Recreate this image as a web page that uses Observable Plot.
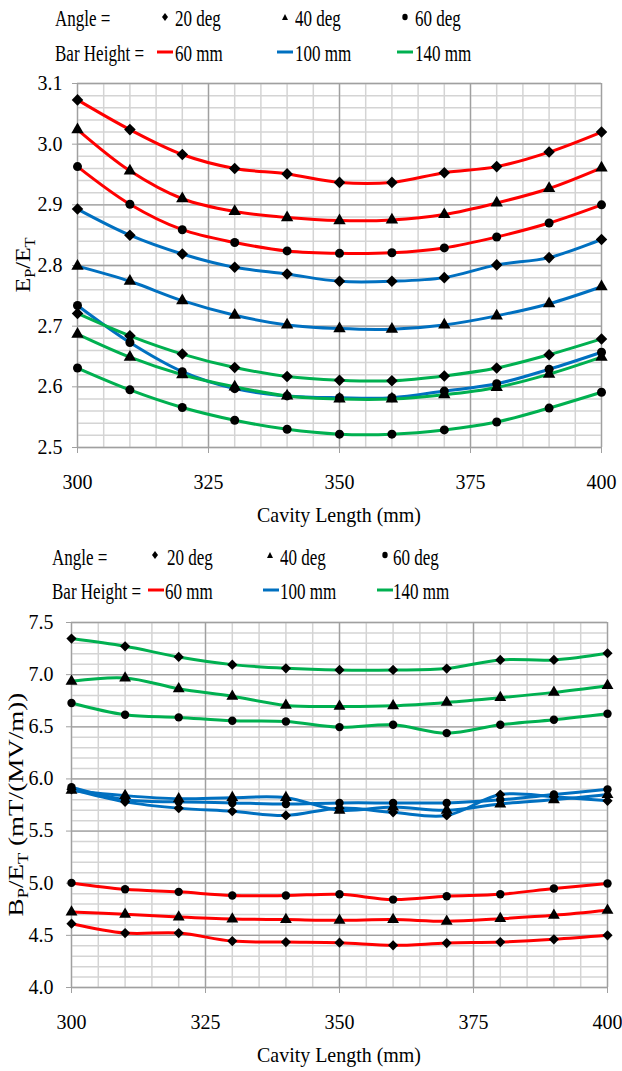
<!DOCTYPE html>
<html><head><meta charset="utf-8">
<script src="https://cdn.jsdelivr.net/npm/d3@7"></script>
<script src="https://cdn.jsdelivr.net/npm/@observablehq/plot@0.6"></script>
<style>
body{margin:0;background:#fff;font-family:'Liberation Serif','DejaVu Serif',serif;}
#root{position:relative;width:622px;height:1071px;overflow:hidden;background:#fff;}
.leg{position:absolute;font-family:'Liberation Serif','DejaVu Serif',serif;font-size:23px;color:#000;white-space:nowrap;line-height:1;transform:scaleX(0.74);transform-origin:left center;}
.chart{position:absolute;left:0;}
.mk{position:absolute;overflow:visible;}
svg text{font-family:'Liberation Serif','DejaVu Serif',serif;}
</style></head><body><div id="root"></div>
<script>
// ---------------- data ----------------
const cavityLength = [300,310,320,330,340,350,360,370,380,390,400];
const xTicks = [300,325,350,375,400];
const xMinor = [300,305,310,315,320,325,330,335,340,345,350,355,360,365,370,375,380,385,390,395,400];

// Top chart: Ep/Et
const epRed20   = [3.073,3.024,2.983,2.960,2.951,2.937,2.937,2.953,2.963,2.987,3.020];
const epRed40   = [3.024,2.956,2.910,2.889,2.879,2.874,2.875,2.884,2.903,2.927,2.961];
const epRed60   = [2.963,2.901,2.859,2.838,2.824,2.820,2.821,2.829,2.847,2.870,2.900];
const epBlue20  = [2.893,2.850,2.819,2.797,2.786,2.774,2.774,2.780,2.801,2.813,2.843];
const epBlue40  = [2.799,2.774,2.742,2.718,2.702,2.696,2.695,2.702,2.717,2.737,2.765];
const epBlue60  = [2.734,2.673,2.625,2.597,2.585,2.582,2.582,2.593,2.605,2.629,2.657];
const epGreen20 = [2.721,2.684,2.654,2.632,2.617,2.611,2.610,2.618,2.631,2.653,2.679];
const epGreen40 = [2.687,2.649,2.620,2.600,2.585,2.580,2.580,2.587,2.599,2.621,2.649];
const epGreen60 = [2.631,2.595,2.566,2.545,2.530,2.522,2.522,2.529,2.542,2.565,2.591];
const epTicks = [2.5,2.6,2.7,2.8,2.9,3.0,3.1];
const epMinor = [2.50,2.52,2.54,2.56,2.58,2.60,2.62,2.64,2.66,2.68,2.70,2.72,2.74,2.76,2.78,2.80,2.82,2.84,2.86,2.88,2.90,2.92,2.94,2.96,2.98,3.00,3.02,3.04,3.06,3.08,3.10];

// Bottom chart: Bp/Et
const bpRed20   = [4.612,4.522,4.522,4.445,4.436,4.430,4.404,4.426,4.436,4.462,4.500];
const bpRed40   = [4.724,4.702,4.676,4.657,4.651,4.644,4.651,4.635,4.660,4.692,4.740];
const bpRed60   = [5.003,4.942,4.917,4.882,4.882,4.894,4.843,4.875,4.894,4.949,4.997];
const bpBlue20  = [5.90,5.78,5.72,5.69,5.65,5.72,5.68,5.65,5.85,5.83,5.79];
const bpBlue40  = [5.89,5.84,5.81,5.82,5.82,5.70,5.73,5.70,5.76,5.80,5.85];
const bpBlue60  = [5.92,5.80,5.78,5.77,5.76,5.77,5.77,5.77,5.80,5.85,5.90];
const bpGreen20 = [7.346,7.272,7.170,7.096,7.061,7.045,7.045,7.058,7.141,7.141,7.205];
const bpGreen40 = [6.936,6.968,6.865,6.792,6.705,6.695,6.702,6.734,6.779,6.830,6.894];
const bpGreen60 = [6.728,6.615,6.590,6.558,6.551,6.497,6.519,6.439,6.519,6.567,6.625];
const bpTicks = [4.0,4.5,5.0,5.5,6.0,6.5,7.0,7.5];
const bpMinor = [4.0,4.1,4.2,4.3,4.4,4.5,4.6,4.7,4.8,4.9,5.0,5.1,5.2,5.3,5.4,5.5,5.6,5.7,5.8,5.9,6.0,6.1,6.2,6.3,6.4,6.5,6.6,6.7,6.8,6.9,7.0,7.1,7.2,7.3,7.4,7.5];

const heights = ["60 mm","100 mm","140 mm"];
const heightColors = ["#ff0000","#0070c0","#00b050"];
const angles = ["20 deg","40 deg","60 deg"];

const topSeries = [
  {h:"60 mm", a:"20 deg", v:epRed20},{h:"60 mm", a:"40 deg", v:epRed40},{h:"60 mm", a:"60 deg", v:epRed60},
  {h:"100 mm",a:"20 deg", v:epBlue20},{h:"100 mm",a:"40 deg", v:epBlue40},{h:"100 mm",a:"60 deg", v:epBlue60},
  {h:"140 mm",a:"20 deg", v:epGreen20},{h:"140 mm",a:"40 deg", v:epGreen40},{h:"140 mm",a:"60 deg", v:epGreen60}
];
const botSeries = [
  {h:"60 mm", a:"20 deg", v:bpRed20},{h:"60 mm", a:"40 deg", v:bpRed40},{h:"60 mm", a:"60 deg", v:bpRed60},
  {h:"100 mm",a:"20 deg", v:bpBlue20},{h:"100 mm",a:"40 deg", v:bpBlue40},{h:"100 mm",a:"60 deg", v:bpBlue60},
  {h:"140 mm",a:"20 deg", v:bpGreen20},{h:"140 mm",a:"40 deg", v:bpGreen40},{h:"140 mm",a:"60 deg", v:bpGreen60}
];

const FONT = "'Liberation Serif','DejaVu Serif',serif";
const root = document.getElementById("root");

function toRows(series){
  return series.flatMap(s => cavityLength.map((x,i)=>({x, y:s.v[i], h:s.h, a:s.a, key:s.h+"|"+s.a})));
}

function addLabel(svg, parts, x, y, rotate, fontSize, targetLen){
  const g = svg.append("g").attr("transform", `translate(${x},${y}) rotate(${rotate})`);
  const t = g.append("text").attr("text-anchor","middle")
    .style("font-family", FONT)
    .attr("font-size", fontSize).attr("fill","#000");
  let shift = 0;
  parts.forEach(p => {
    const ts = t.append("tspan").text(p.t);
    if (p.sub) { ts.attr("font-size", fontSize*0.68).attr("dy", 5 - shift); shift = 5; }
    else { if (shift) ts.attr("dy", -shift); shift = 0; }
  });
  if (targetLen) {
    const len = t.node().getComputedTextLength();
    if (len > 0) t.attr("transform", `scale(${targetLen/len},1)`);
  }
}

function makeChart(o){
  const rows = toRows(o.series);
  const dotOpts = (a, sym, r) => Plot.dot(rows.filter(d => d.a === a), {x:"x", y:"y", symbol:()=>sym, r, fill:"#000", stroke:"none"});
  const plot = Plot.plot({
    width:622, height:o.height,
    marginLeft:o.mL, marginRight:o.mR, marginTop:o.mT, marginBottom:o.mB,
    style:{fontFamily:FONT, fontSize:"20px", color:"#000", background:"transparent"},
    x:{domain:[300,400], label:null},
    y:{domain:o.yDomain, label:null},
    color:{domain:heights, range:heightColors},
    symbol:{type:"identity"},
    marks:[
      Plot.ruleX(xMinor, {stroke:"#d4d4d4", strokeWidth:1.5}),
      Plot.ruleY(o.yMinor, {stroke:"#d4d4d4", strokeWidth:1.5}),
      Plot.ruleX(xTicks, {stroke:"#a0a0a0", strokeWidth:1.3}),
      Plot.ruleY(o.yTicks, {stroke:"#a0a0a0", strokeWidth:1.3}),
      Plot.axisX(xTicks, {tickSize:6, tickPadding:o.xPad, stroke:"#a0a0a0", fill:"#000", fontSize:20, label:null, tickFormat:d=>String(d)}),
      Plot.axisY(o.yTicks, {tickSize:5, tickPadding:o.yPad, stroke:"#a0a0a0", fill:"#000", fontSize:20, label:null, tickFormat:d=>d.toFixed(1)}),
      Plot.line(rows, {x:"x", y:"y", z:"key", stroke:"h", strokeWidth:3, curve:"catmull-rom"}),
      dotOpts("20 deg","diamond2", o.rD),
      dotOpts("40 deg","triangle", o.rT),
      dotOpts("60 deg","circle", o.rC)
    ]
  });
  const wrap = document.createElement("div");
  wrap.className = "chart";
  wrap.style.top = o.top + "px";
  wrap.appendChild(plot);
  root.appendChild(wrap);
  const svg = d3.select(plot.tagName.toLowerCase()==="svg" ? plot : plot.querySelector("svg"));
  const plotCx = (o.mL + (622 - o.mR)) / 2;
  const axisY = o.height - o.mB;
  addLabel(svg, [{t:"Cavity Length (mm)"}], plotCx, axisY + 75, 0, 21, 164);
  addLabel(svg, o.yLabel, o.yLabX, (o.mT + axisY)/2, -90, 22, o.yLabLen);
}

makeChart({series:topSeries, top:60, height:470, mL:77, mR:21, mT:23, mB:83,
  yDomain:[2.5,3.1], yTicks:epTicks, yMinor:epMinor, xPad:21, yPad:10,
  rD:5.2, rT:4.6, rC:4.5,
  yLabel:[{t:"E"},{t:"P",sub:true},{t:"/E"},{t:"T",sub:true}], yLabX:30, yLabLen:55});

makeChart({series:botSeries, top:610, height:461, mL:71, mR:15, mT:12, mB:84,
  yDomain:[4.0,7.5], yTicks:bpTicks, yMinor:bpMinor, xPad:21, yPad:13,
  rD:4.6, rT:4.4, rC:4.2,
  yLabel:[{t:"B"},{t:"P",sub:true},{t:"/E"},{t:"T",sub:true},{t:" (mT/(MV/m))"}], yLabX:23, yLabLen:224});

// ---------------- legends ----------------
function legText(txt, left, baseline){
  const d = document.createElement("div");
  d.className = "leg"; d.textContent = txt;
  d.style.left = left + "px"; d.style.top = (baseline - 19.3) + "px";
  root.appendChild(d);
}
function legMarker(kind, cx, cy){
  const s = d3.create("svg").attr("class","mk").attr("width",12).attr("height",12)
    .style("left",(cx-6)+"px").style("top",(cy-6)+"px");
  if (kind==="20 deg") s.append("path").attr("d","M6,2 L9,6 L6,10 L3,6 Z").attr("fill","#000");
  if (kind==="40 deg") s.append("path").attr("d","M6,3 L9,9 L3,9 Z").attr("fill","#000");
  if (kind==="60 deg") s.append("ellipse").attr("cx",6).attr("cy",6).attr("rx",2.7).attr("ry",3.2).attr("fill","#000");
  root.appendChild(s.node());
}
function legLine(color, x1, x2, y){
  const s = d3.create("svg").attr("class","mk").attr("width",x2-x1).attr("height",6)
    .style("left",x1+"px").style("top",(y-3)+"px");
  s.append("line").attr("x1",0).attr("x2",x2-x1).attr("y1",3).attr("y2",3).attr("stroke",color).attr("stroke-width",3);
  root.appendChild(s.node());
}
function legend(o){
  legText("Angle =", o.left, o.b1);
  legText("Bar Height =", o.left, o.b2);
  angles.forEach((a,i)=>{ legMarker(a, o.mx[i], o.my); legText(a, o.tx[i], o.b1); });
  heights.forEach((h,i)=>{ legLine(heightColors[i], o.lx[i], o.lx[i]+16, o.ly); legText(h, o.hx[i], o.b2); });
}
legend({left:55, b1:26, b2:61, mx:[165,285,405], my:17, tx:[175,295,415], lx:[157,277,397], ly:52, hx:[175,295,415]});
legend({left:52, b1:565, b2:599, mx:[155,270,385], my:555, tx:[167,280,393], lx:[148,263,377], ly:590, hx:[165,280,393]});
</script></body></html>
